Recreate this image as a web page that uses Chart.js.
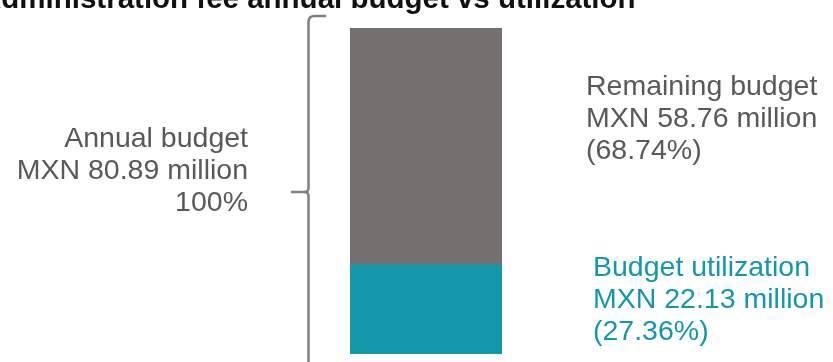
<!DOCTYPE html>
<html>
<head>
<meta charset="utf-8">
<script src="https://cdn.jsdelivr.net/npm/chart.js@4.4.0/dist/chart.umd.min.js"></script>
<style>
  html, body { margin: 0; padding: 0; background: #ffffff; }
  #wrap { width: 833px; height: 362px; position: relative; }
</style>
</head>
<body>
<div id="wrap"><canvas id="c" width="833" height="362"></canvas></div>
<script>
// ---- data ----
const categories = ['Annual budget'];
const utilizedValues = [22.13];
const remainingValues = [58.76];
const annualBudget = 80.89;
const titleText = 'Administration fee annual budget vs utilization';
const annualLabel = ['Annual budget', 'MXN 80.89 million', '100%'];
const remainingLabel = ['Remaining budget', 'MXN 58.76 million', '(68.74%)'];
const utilizedLabel = ['Budget utilization', 'MXN 22.13 million', '(27.36%)'];

const GRAY_BAR = '#74706f';
const TEAL = '#1297ab';
const TEXT_GRAY = '#595959';
const FONT = '"Liberation Sans", Arial, Helvetica, sans-serif';

const annotations = {
  id: 'annotations',
  afterDraw(chart) {
    const ctx = chart.ctx;
    const meta1 = chart.getDatasetMeta(1).data[0];
    ctx.save();
    // title (partly cut off at top)
    ctx.font = 'bold 29.5px ' + FONT;
    ctx.fillStyle = '#111111';
    ctx.textAlign = 'left';
    ctx.textBaseline = 'alphabetic';
    ctx.fillText(titleText, -20, 8);

    // brace
    const bx = 308.5;
    const topY = meta1.y - 12;
    const midY = 192;
    ctx.strokeStyle = '#808080';
    ctx.lineWidth = 2.5;
    ctx.lineCap = 'butt';
    ctx.beginPath();
    ctx.moveTo(326, topY);
    ctx.lineTo(bx + 6, topY);
    ctx.quadraticCurveTo(bx, topY, bx, topY + 6);
    ctx.lineTo(bx, midY - 4);
    ctx.quadraticCurveTo(bx, midY, bx - 4, midY);
    ctx.lineTo(291, midY);
    ctx.moveTo(bx - 4, midY);
    ctx.quadraticCurveTo(bx, midY, bx, midY + 4);
    ctx.lineTo(bx, 370);
    ctx.stroke();

    // labels
    ctx.font = '28.5px ' + FONT;
    const lh = 32;
    ctx.fillStyle = TEXT_GRAY;
    ctx.textAlign = 'right';
    annualLabel.forEach((t, i) => ctx.fillText(t, 248, 147 + i * lh));
    ctx.textAlign = 'left';
    remainingLabel.forEach((t, i) => ctx.fillText(t, 586, 95 + i * lh));
    ctx.fillStyle = TEAL;
    utilizedLabel.forEach((t, i) => ctx.fillText(t, 593, 276 + i * lh));
    ctx.restore();
  }
};

new Chart(document.getElementById('c'), {
  type: 'bar',
  data: {
    labels: categories,
    datasets: [
      { label: 'Budget utilization', data: utilizedValues, backgroundColor: TEAL, borderWidth: 0, barPercentage: 1, categoryPercentage: 1 },
      { label: 'Remaining budget', data: remainingValues, backgroundColor: GRAY_BAR, borderWidth: 0, barPercentage: 1, categoryPercentage: 1 }
    ]
  },
  options: {
    responsive: false,
    animation: false,
    devicePixelRatio: 1,
    layout: { padding: { left: 350, right: 331, top: 28, bottom: 8 } },
    plugins: { legend: { display: false }, tooltip: { enabled: false }, title: { display: false } },
    scales: {
      x: { stacked: true, display: false },
      y: { stacked: true, display: false, min: 0, max: annualBudget }
    }
  },
  plugins: [annotations]
});
</script>
</body>
</html>
